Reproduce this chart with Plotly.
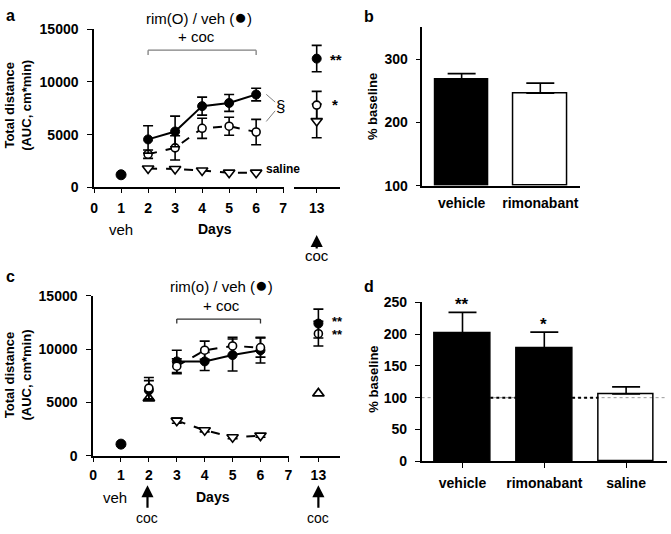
import plotly.graph_objects as go

W, H = 671, 534
FONT = "Liberation Sans, Arial, sans-serif"

# ---------------- data ----------------
# Panel a
a_days = [2, 3, 4, 5, 6]
a_veh = [4550, 5300, 7700, 8000, 8800]
a_veh_err = [1300, 1450, 850, 800, 600]
a_rim = [3150, 3750, 5600, 5800, 5250]
a_rim_err = [400, 1150, 950, 850, 1200]
a_sal = [1800, 1750, 1600, 1400, 1400]
a_day1 = [1200]
a_d13_veh, a_d13_veh_err = [12200], [1250]
a_d13_rim, a_d13_rim_err = [7800], [1300]
a_d13_sal, a_d13_sal_err = [6300], [1600]

# Panel c
c_day2_veh, c_day2_veh_err = [6150], [900]
c_day2_rim, c_day2_rim_err = [6350], [1000]
c_day2_sal = [5400]
c_days = [3, 4, 5, 6]
c_veh = [8850, 8850, 9450, 9900]
c_veh_err = [1050, 850, 1500, 1200]
c_rim = [8400, 9900, 10300, 10150]
c_rim_err = [700, 850, 800, 900]
c_sal = [3300, 2400, 1750, 1900]
c_sal_err = [250, 150, 150, 150]
c_day1 = [1100]
c_d13_veh, c_d13_veh_err = [12400], [1350]
c_d13_rim, c_d13_rim_err = [11450], [1150]
c_d13_sal = [5850]

# Panel b
b_cats = ["vehicle", "rimonabant"]
b_vals = [268, 246]
b_err = [9, 16]

# Panel d
d_cats = ["vehicle", "rimonabant", "saline"]
d_vals = [201, 178, 106]
d_err = [33, 25, 11]

x_left_ticks = [0, 1, 2, 3, 4, 5, 6, 7]
y_line_ticks = [0, 5000, 10000, 15000]


def px(x):
    return x / W


def py(y):
    return 1 - y / H


fig = go.Figure()

BLK = "black"
filled = dict(symbol="circle", size=9, color=BLK, line=dict(color=BLK, width=1))
opened = dict(symbol="circle", size=8, color="white", line=dict(color=BLK, width=1.6))
tri_dn = dict(symbol="triangle-down", size=10, color="white", line=dict(color=BLK, width=1.6))
tri_up = dict(symbol="triangle-up", size=10, color="white", line=dict(color=BLK, width=1.8))


def err(arr, w=5):
    return dict(type="data", array=arr, visible=True, color=BLK, thickness=1.6, width=w)


# ---- panel a ----
fig.add_trace(go.Scatter(x=a_days, y=a_sal, mode="lines+markers", xaxis="x", yaxis="y",
                         line=dict(color=BLK, width=2, dash="dash"), marker=tri_dn, cliponaxis=False))
fig.add_trace(go.Scatter(x=a_days, y=a_rim, mode="lines+markers", xaxis="x", yaxis="y",
                         line=dict(color=BLK, width=2, dash="dash"), marker=opened,
                         error_y=err(a_rim_err), cliponaxis=False))
fig.add_trace(go.Scatter(x=a_days, y=a_veh, mode="lines+markers", xaxis="x", yaxis="y",
                         line=dict(color=BLK, width=2), marker=filled,
                         error_y=err(a_veh_err), cliponaxis=False))
fig.add_trace(go.Scatter(x=[1], y=a_day1, mode="markers", xaxis="x", yaxis="y",
                         marker=dict(filled, size=10), cliponaxis=False))
fig.add_trace(go.Scatter(x=[13], y=a_d13_sal, mode="markers", xaxis="x2", yaxis="y",
                         marker=tri_dn, error_y=err(a_d13_sal_err), cliponaxis=False))
fig.add_trace(go.Scatter(x=[13], y=a_d13_rim, mode="markers", xaxis="x2", yaxis="y",
                         marker=opened, error_y=err(a_d13_rim_err), cliponaxis=False))
fig.add_trace(go.Scatter(x=[13], y=a_d13_veh, mode="markers", xaxis="x2", yaxis="y",
                         marker=filled, error_y=err(a_d13_veh_err), cliponaxis=False))

# ---- panel c ----
fig.add_trace(go.Scatter(x=c_days, y=c_sal, mode="lines+markers", xaxis="x3", yaxis="y2",
                         line=dict(color=BLK, width=2, dash="dash"), marker=tri_dn,
                         error_y=err(c_sal_err), cliponaxis=False))
fig.add_trace(go.Scatter(x=[2], y=c_day2_sal, mode="markers", xaxis="x3", yaxis="y2",
                         marker=tri_up, cliponaxis=False))
fig.add_trace(go.Scatter(x=c_days, y=c_veh, mode="lines+markers", xaxis="x3", yaxis="y2",
                         line=dict(color=BLK, width=2), marker=filled,
                         error_y=err(c_veh_err), cliponaxis=False))
fig.add_trace(go.Scatter(x=[2], y=c_day2_veh, mode="markers", xaxis="x3", yaxis="y2",
                         marker=filled, error_y=err(c_day2_veh_err), cliponaxis=False))
fig.add_trace(go.Scatter(x=c_days, y=c_rim, mode="lines+markers", xaxis="x3", yaxis="y2",
                         line=dict(color=BLK, width=2, dash="dash"), marker=opened,
                         error_y=err(c_rim_err), cliponaxis=False))
fig.add_trace(go.Scatter(x=[2], y=c_day2_rim, mode="markers", xaxis="x3", yaxis="y2",
                         marker=opened, error_y=err(c_day2_rim_err), cliponaxis=False))
fig.add_trace(go.Scatter(x=[1], y=c_day1, mode="markers", xaxis="x3", yaxis="y2",
                         marker=dict(filled, size=10), cliponaxis=False))
fig.add_trace(go.Scatter(x=[13], y=c_d13_sal, mode="markers", xaxis="x4", yaxis="y2",
                         marker=tri_up, cliponaxis=False))
fig.add_trace(go.Scatter(x=[13], y=c_d13_rim, mode="markers", xaxis="x4", yaxis="y2",
                         marker=opened, error_y=err(c_d13_rim_err), cliponaxis=False))
fig.add_trace(go.Scatter(x=[13], y=c_d13_veh, mode="markers", xaxis="x4", yaxis="y2",
                         marker=filled, error_y=err(c_d13_veh_err), cliponaxis=False))

# ---- panel b ----
fig.add_trace(go.Bar(x=b_cats, y=[v - 100 for v in b_vals], base=100, xaxis="x5", yaxis="y3", width=0.68,
                     marker=dict(color=[BLK, "white"], line=dict(color=BLK, width=1.5)),
                     error_y=dict(type="data", symmetric=False, array=b_err, arrayminus=[0, 0],
                                  color=BLK, thickness=1.6, width=14)))

# ---- panel d ----
fig.add_trace(go.Bar(x=d_cats, y=d_vals, xaxis="x6", yaxis="y4", width=0.68,
                     marker=dict(color=[BLK, BLK, "rgba(255,255,255,0)"], line=dict(color=BLK, width=1.5)),
                     error_y=dict(type="data", symmetric=False, array=d_err, arrayminus=[0, 0, 0],
                                  color=BLK, thickness=1.6, width=14)))

tickfont = dict(family=FONT, size=14, color=BLK, weight="bold")
axline = dict(showline=True, linecolor=BLK, linewidth=1.5, ticks="outside", tickcolor=BLK,
              tickwidth=1.3, showgrid=False, zeroline=False, tickfont=tickfont)

# panel a axes
a_scale = 27.3
fig.update_layout(
    xaxis=dict(axline, domain=[px(91), px(91 + 7.03 * a_scale)], range=[0, 7.03], anchor="y",
               tickvals=x_left_ticks, ticklen=4, ticklabelstandoff=3),
    xaxis2=dict(axline, domain=[px(293.3), px(340)],
                range=[13 - (316 - 293.3) / a_scale, 13 + (340 - 316) / a_scale], anchor="y",
                tickvals=[13], ticklen=4, ticklabelstandoff=3),
    yaxis=dict(axline, domain=[py(185), py(21.7)], range=[0, 15000], anchor="x",
               tickvals=y_line_ticks, tickformat="d", ticklen=5, ticklabelstandoff=6),
)
# panel c axes
c_scale = 28.2
fig.update_layout(
    xaxis3=dict(axline, domain=[px(90), px(90 + 7.03 * c_scale)], range=[0, 7.03], anchor="y2",
                tickvals=x_left_ticks, ticklen=4, ticklabelstandoff=2),
    xaxis4=dict(axline, domain=[px(299.3), px(340)],
                range=[13 - (317.7 - 299.3) / c_scale, 13 + (340 - 317.7) / c_scale], anchor="y2",
                tickvals=[13], ticklen=4, ticklabelstandoff=2),
    yaxis2=dict(axline, domain=[py(461.7), py(296.7)], range=[0, 15000], anchor="x3",
                tickvals=y_line_ticks, tickformat="d", ticklen=5, ticklabelstandoff=6),
)
# panel b / d axes
fig.update_layout(
    xaxis5=dict(axline, domain=[px(422.7), px(581.7)], range=[-0.5, 1.5], anchor="y3",
                ticks="", ticklabelstandoff=4),
    yaxis3=dict(axline, domain=[py(183.3), py(20)], range=[100, 350], anchor="x5",
                tickvals=[100, 200, 300], ticklen=5, ticklabelstandoff=5),
    xaxis6=dict(axline, domain=[px(422), px(670)], range=[-0.5, 2.5], anchor="y4",
                ticklen=5, ticklabelstandoff=3),
    yaxis4=dict(axline, domain=[py(467.3), py(303.3)], range=[0, 250], anchor="x6",
                tickvals=[0, 50, 100, 150, 200, 250], ticklen=5, ticklabelstandoff=5),
)

shapes = []
GREY = "#7f7f7f"
shapes += [
    dict(type="line", xref="x", yref="y", x0=2, x1=6, y0=13000, y1=13000, line=dict(color=GREY, width=1.3)),
    dict(type="line", xref="x", yref="y", x0=2, x1=2, y0=13000, y1=12550, line=dict(color=GREY, width=1.3)),
    dict(type="line", xref="x", yref="y", x0=6, x1=6, y0=13000, y1=12550, line=dict(color=GREY, width=1.3)),
    dict(type="line", xref="x3", yref="y2", x0=3, x1=6, y0=12820, y1=12820, line=dict(color="#333", width=1.3)),
    dict(type="line", xref="x3", yref="y2", x0=3, x1=3, y0=12820, y1=12400, line=dict(color="#333", width=1.3)),
    dict(type="line", xref="x3", yref="y2", x0=6, x1=6, y0=12820, y1=12400, line=dict(color="#333", width=1.3)),
]
shapes += [
    dict(type="line", xref="paper", yref="paper", x0=px(265), y0=py(89), x1=px(274), y1=py(97),
         line=dict(color=GREY, width=1)),
    dict(type="line", xref="paper", yref="paper", x0=px(265), y0=py(117), x1=px(274), y1=py(106),
         line=dict(color=GREY, width=1)),
]
shapes += [
    dict(type="line", xref="paper", yref="y4", x0=px(422), x1=px(670), y0=100, y1=100, layer="below",
         line=dict(color="#999", width=1, dash="dot")),
    dict(type="line", xref="x6", yref="y4", x0=0.34, x1=0.66, y0=100, y1=100, layer="below",
         line=dict(color=BLK, width=2, dash="dot")),
    dict(type="line", xref="x6", yref="y4", x0=1.34, x1=1.66, y0=100, y1=100, layer="below",
         line=dict(color=BLK, width=2, dash="dot")),
]

ann = []


def T(x, y, text, size=15, bold=False, angle=0, xanchor="center"):
    ann.append(dict(x=px(x), y=py(y), xref="paper", yref="paper", text=text, showarrow=False,
                    textangle=angle, xanchor=xanchor, yanchor="middle",
                    font=dict(family=FONT, size=size, color=BLK, weight="bold" if bold else "normal")))


def ARROW(x, ytip, ytail):
    ann.append(dict(x=px(x), y=py(ytip), xref="paper", yref="paper", text="", showarrow=True,
                    ax=0, ay=ytail - ytip, arrowhead=2, arrowsize=1.1, arrowwidth=2.2, arrowcolor=BLK))


DOT = "<span style='font-size:21px'>●</span>"

# panel a texts
T(7, 8, "a", 16, True)
T(197, 9, "rim(O) / veh (" + DOT + ")", 15)
T(195, 29, "+ coc", 15)
T(279, 102, "§", 17)
T(282, 166, "saline", 12, True)
T(336, 53, "**", 15, True)
T(334, 99, "*", 15, True)
T(118, 228, "veh", 15)
T(213, 228, "Days", 14, True)
ARROW(316, 234, 249)
T(316, 255, "coc", 15)
T(14, 100, "Total distance<br>(AUC, cm*min)", 13, True, -90)

# panel b texts
T(369, 9, "b", 16, True)
T(373, 102, "% baseline", 13, True, -90)

# panel c texts
T(7, 277, "c", 16, True)
T(220, 285, "rim(o) / veh (" + DOT + ")", 15)
T(220, 307, "+ coc", 15)
T(337, 323, "**", 13, True)
T(337, 337, "**", 13, True)
T(112, 505, "veh", 15)
T(211, 504, "Days", 14, True)
ARROW(145, 492, 516)
T(145, 526, "coc", 14)
ARROW(317.7, 492, 516)
T(317.7, 526, "coc", 14)
T(14, 378, "Total distance<br>(AUC, cm*min)", 13, True, -90)

# panel d texts
T(369, 287, "d", 16, True)
T(463, 306, "**", 17, True)
T(545, 326, "*", 17, True)
T(373, 383, "% baseline", 13, True, -90)

fig.update_layout(
    width=W, height=H, margin=dict(l=0, r=0, t=0, b=0),
    paper_bgcolor="white", plot_bgcolor="white", showlegend=False,
    shapes=shapes, annotations=ann, bargap=0,
    font=dict(family=FONT, color=BLK),
)

fig.write_html("out.html", post_script="document.body.style.margin='0px';",
               config={"displayModeBar": False})
